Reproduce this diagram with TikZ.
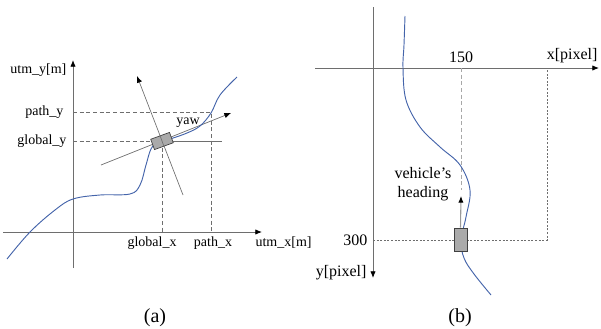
\documentclass[tikz,border=0pt]{standalone}
\usepackage{fontspec}
\setmainfont{Liberation Serif}
\usetikzlibrary{arrows.meta}
\definecolor{curveblue}{RGB}{68,100,170}
\definecolor{axisgray}{RGB}{110,110,110}
\definecolor{cargray}{RGB}{170,170,170}
\tikzset{
  tipblack/.style={-{Latex[length=5pt,width=4pt,color=black]}},
  axis/.style={draw=axisgray, line width=0.6pt, tipblack},
  helper/.style={draw=axisgray, line width=0.5pt, dash pattern=on 3pt off 2pt},
  guide/.style={draw=axisgray, line width=0.5pt},
  guidearrow/.style={guide, tipblack},
  pathcurve/.style={draw=curveblue, line width=0.7pt},
  carbox/.style={draw=black!75, fill=cargray, line width=0.5pt, inner sep=0pt},
  lbl/.style={font=\fontsize{10.5}{12}\selectfont, inner sep=1pt},
  lblb/.style={font=\fontsize{12}{14.5}\selectfont, inner sep=1pt},
  caplabel/.style={font=\fontsize{15}{17}\selectfont, inner sep=0pt}
}
\begin{document}
\begin{tikzpicture}[x=0.75pt,y=-0.75pt]
\useasboundingbox (0,0) rectangle (601,329);
% ---------------- panel (a) ----------------
\coordinate (xa0) at (3,232);
\coordinate (xa1) at (262,232);
\coordinate (ya0) at (73,268);
\coordinate (ya1) at (73,60);
\draw[axis] (xa0) -- (xa1);
\draw[axis] (ya0) -- (ya1);
\node[lbl, anchor=west] (utmx) at (254,243) {utm\_x[m]};
\node[lbl, anchor=east] (utmy) at (68,70) {utm\_y[m]};
% helper lines
\coordinate (gyA) at (73,141);
\coordinate (gyB) at (162,141);
\coordinate (pyA) at (73,112);
\coordinate (pyB) at (211,112);
\coordinate (pxB) at (211,232);
\coordinate (gxB) at (162,232);
\coordinate (hz) at (222,141);
\draw[helper] (gyA) -- (gyB);
\draw[helper] (pyA) -- (pyB) -- (pxB);
\draw[helper] (gyB) -- (gxB);
\draw[guide] (gyB) -- (hz);
\node[lbl, anchor=east] (pathy) at (65,112) {path\_y};
\node[lbl, anchor=east] (globaly) at (68,141) {global\_y};
\node[lbl] (globalx) at (152,243) {global\_x};
\node[lbl] (pathx) at (213,243) {path\_x};
% heading and normal lines
\coordinate (hd0) at (101,165);
\coordinate (hd1) at (231,113);
\coordinate (nm0) at (183,195);
\coordinate (nm1) at (137,76);
\draw[guidearrow] (hd0) -- (hd1);
\draw[guidearrow] (nm0) -- (nm1);
% path curve
\draw[pathcurve] plot[smooth, tension=0.6] coordinates {
 (7,259) (30,232) (55,210) (73,199) (100,195) (130,194) (140,185) (146,165)
 (151,149) (158,142) (170,139) (187,133) (200,126) (211,113) (220,95) (237,77)};
% car
\node[carbox, rotate=20, minimum width=15pt, minimum height=8.25pt] (cara) at (162,141) {};
\draw[guide] (cara.north) -- (cara.south);
\draw[guide] (174,141) arc[start angle=0, end angle=21, radius=4];
\node[lbl] (yaw) at (188,123) {yaw};
\node[caplabel] (capa) at (155,318) {(a)};
% ---------------- panel (b) ----------------
\coordinate (xb0) at (315,68);
\coordinate (xb1) at (599,68);
\coordinate (yb0) at (373,7);
\coordinate (yb1) at (373,278);
\draw[axis] (xb0) -- (xb1);
\draw[axis] (yb0) -- (yb1);
\node[lblb, anchor=east] (xpix) at (599,56) {x[pixel]};
\node[lblb, anchor=east] (ypix) at (368,273) {y[pixel]};
\node[lblb] (l150) at (461,57) {150};
\node[lblb, anchor=east] (l300) at (369,240) {300};
\coordinate (t150) at (461,68);
\coordinate (dv1) at (461,190);
\coordinate (r300) at (373,240);
\coordinate (c300) at (547,240);
\coordinate (c0) at (547,68);
\draw[helper, draw=axisgray!60, line width=0.6pt] (t150) -- (dv1);
\draw[helper, dash pattern=on 1.5pt off 1.2pt] (r300) -- (c300) -- (c0);
% path curve b
\draw[pathcurve] plot[smooth, tension=0.6] coordinates {
 (405,16) (404,45) (403,68) (406,100) (420,127) (440,147) (460,165) (470,190)
 (466,217) (461,240) (464,258) (474,274) (491,295)};
% car b
\node[carbox, minimum width=9.75pt, minimum height=17.25pt] (carb) at (460.5,239.5) {};
\coordinate (hb) at (461,196);
\draw[guide, draw=axisgray!70, line width=0.8pt, tipblack] (carb.north) -- (hb);
\node[lblb, align=center] (heading) at (423,184) {vehicle’s\\heading};
\node[caplabel] (capb) at (460,318) {(b)};
\end{tikzpicture}
\end{document}
